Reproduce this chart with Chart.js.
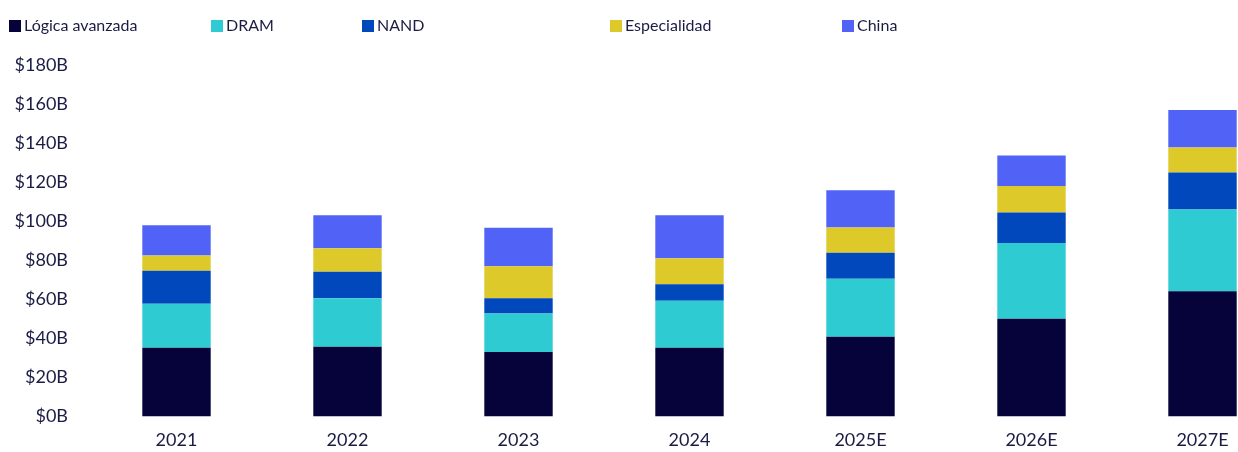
<!DOCTYPE html>
<html>
<head>
<meta charset="utf-8">
<script src="https://cdn.jsdelivr.net/npm/chart.js@4"></script>
<style>
  html, body { margin: 0; padding: 0; background: #fff; overflow: hidden; }
  #wrap { position: relative; width: 1238px; height: 452px; overflow: hidden; }
  #myChart { position: absolute; left: 0; top: 0; }
  .leg { position: absolute; top: 14px; font-family: Lato, sans-serif; font-size: 16px; color: #1b1b45; white-space: nowrap; line-height: 22px; }
  .leg span.box { display: inline-block; width: 12px; height: 12px; margin-right: 3px; vertical-align: -1px; }
</style>
</head>
<body>
<div id="wrap">
  <canvas id="myChart" width="1288" height="452"></canvas>
  <div id="legend"></div>
</div>
<script>
const categories = ['2021', '2022', '2023', '2024', '2025E', '2026E', '2027E'];
const logica = [35.2, 35.7, 33.0, 35.2, 40.8, 50.1, 64.2];
const dram = [22.5, 24.9, 19.8, 24.1, 29.7, 38.8, 41.8];
const nand = [16.9, 13.5, 7.7, 8.4, 13.3, 15.6, 19.0];
const especialidad = [7.9, 12.0, 16.5, 13.4, 13.0, 13.5, 12.8];
const china = [15.5, 17.0, 19.6, 22.0, 19.0, 15.7, 19.1];

const seriesNames = ['Lógica avanzada', 'DRAM', 'NAND', 'Especialidad', 'China'];
const seriesColors = ['#05033a', '#2ecbd2', '#0048bb', '#ddc92a', '#5163f6'];
const legendLeft = [9, 211, 362, 610, 842];

// HTML legend, spaced like the original
const legendEl = document.getElementById('legend');
seriesNames.forEach((name, i) => {
    const item = document.createElement('div');
    item.className = 'leg';
    item.style.left = legendLeft[i] + 'px';
    item.innerHTML = '<span class="box" style="background:' + seriesColors[i] + '"></span>' + name;
    legendEl.appendChild(item);
});

const allSeries = [logica, dram, nand, especialidad, china];
const datasets = allSeries.map((vals, i) => ({
    label: seriesNames[i],
    data: vals,
    backgroundColor: seriesColors[i],
    borderWidth: 0,
    categoryPercentage: 1,
    barPercentage: 0.4
}));

const tickFont = { family: 'Lato', size: 18 };
const ctx = document.getElementById('myChart').getContext('2d');
new Chart(ctx, {
    type: 'bar',
    data: { labels: categories, datasets: datasets },
    options: {
        responsive: false,
        animation: false,
        layout: { padding: { top: 65, left: 0, right: 0, bottom: 0 } },
        plugins: { legend: { display: false }, tooltip: { enabled: false } },
        scales: {
            x: {
                stacked: true,
                grid: { display: false, drawTicks: false },
                border: { display: false },
                afterFit: scale => { scale.height = 35.5; },
                ticks: { color: '#1b1b45', font: tickFont, padding: 13, maxRotation: 0 }
            },
            y: {
                stacked: true,
                min: 0,
                max: 180,
                grid: { display: false, drawTicks: false },
                border: { display: false },
                afterFit: scale => { scale.width = 91; },
                ticks: {
                    stepSize: 20,
                    color: '#1b1b45',
                    font: tickFont,
                    padding: 23,
                    callback: v => '$' + v + 'B'
                }
            }
        }
    }
});
</script>
</body>
</html>
